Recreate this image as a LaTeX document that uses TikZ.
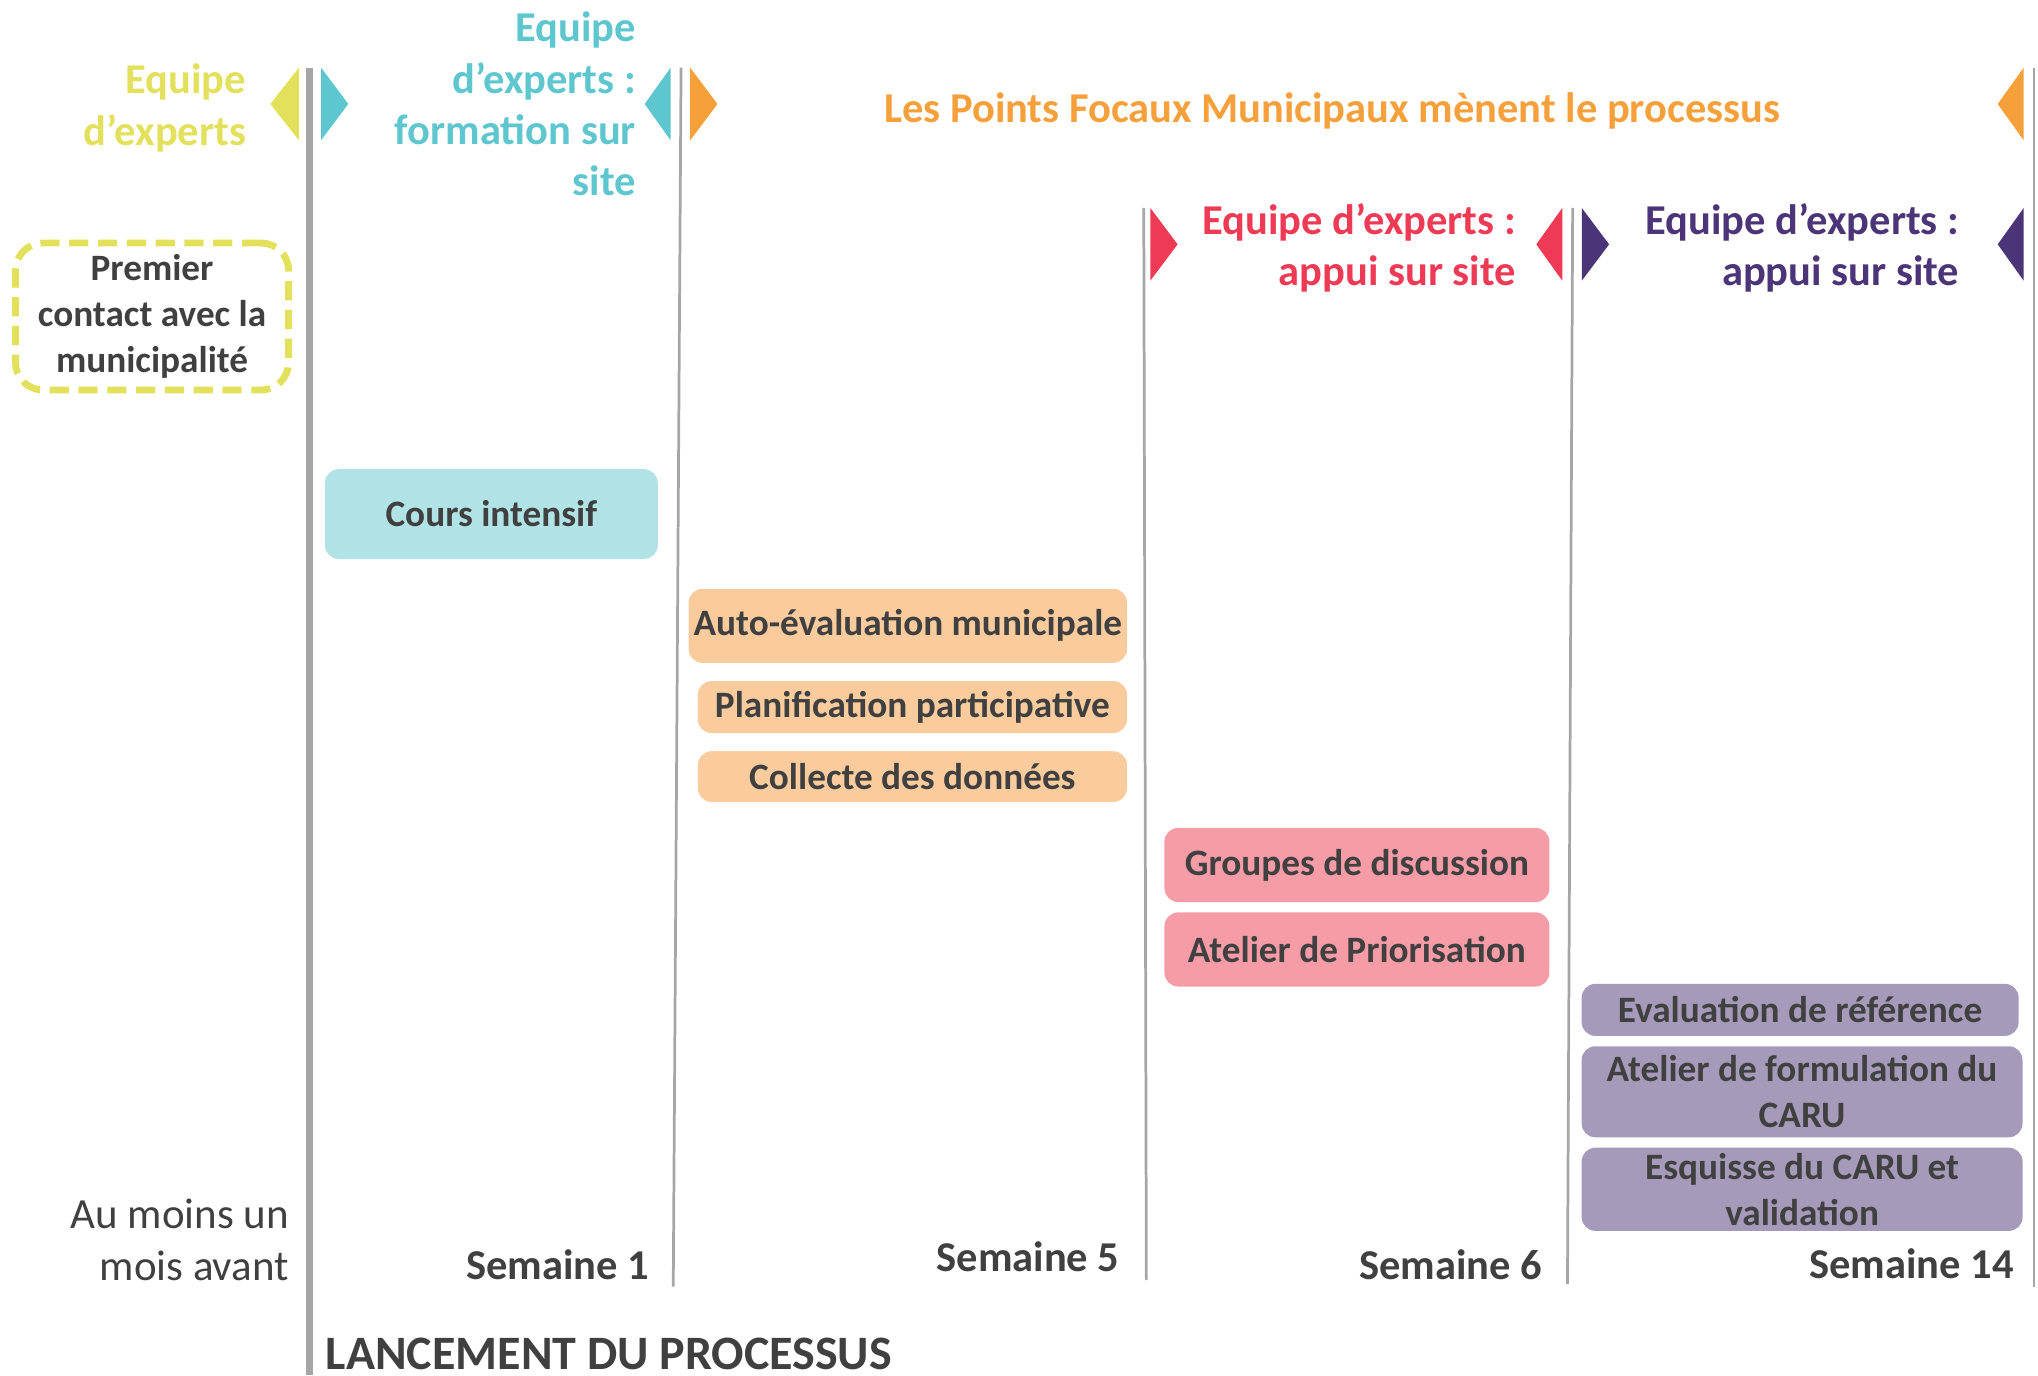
\documentclass[tikz,border=0pt]{standalone}
\usepackage{fontspec}
\setmainfont{Carlito}
\definecolor{txtgrey}{HTML}{404040}
\definecolor{linegrey}{HTML}{A6A6A6}
\definecolor{expyellow}{HTML}{E3E05B}
\definecolor{expcyan}{HTML}{5EC6CF}
\definecolor{pfmorange}{HTML}{F6A03C}
\definecolor{expred}{HTML}{EE3A54}
\definecolor{exppurple}{HTML}{4B3477}
\definecolor{fillcyan}{HTML}{B0E2E6}
\definecolor{fillorange}{HTML}{FACC9D}
\definecolor{fillred}{HTML}{F69CA6}
\definecolor{fillpurple}{HTML}{A69ABA}

\begin{document}
\begin{tikzpicture}[x=0.01cm, y=-0.01cm,
  lbl/.style={font=\fontsize{9.3}{11.2}\selectfont\bfseries, inner sep=0pt, align=right, anchor=east},
  task/.style={rounded corners=3pt, font=\fontsize{8.15}{10}\selectfont\bfseries, text=txtgrey, align=center, inner sep=0pt},
  week/.style={font=\fontsize{9.3}{10}\selectfont\bfseries, text=txtgrey, inner sep=0pt, anchor=east}]
\useasboundingbox (0,0) rectangle (1568,1058);
% time lines
\draw[linegrey, line width=1.6pt] (238,52) -- (238,1058);
\draw[linegrey, line width=0.6pt] (524,52) -- (518,990);
\draw[linegrey, line width=0.6pt] (880,160) -- (882,985);
\draw[linegrey, line width=0.6pt] (1210,160) -- (1206,988);
\draw[linegrey, line width=0.6pt] (1565,52) -- (1565,990);
% flags
\fill[expyellow] (230,52) -- (208,80) -- (230,108) -- cycle;
\fill[expcyan] (247,52) -- (268,80) -- (247,108) -- cycle;
\fill[expcyan] (516,52) -- (496,80) -- (516,108) -- cycle;
\fill[pfmorange] (531,52) -- (552,80) -- (531,108) -- cycle;
\fill[pfmorange] (1557,52) -- (1537,80) -- (1557,108) -- cycle;
\fill[expred] (885,160) -- (906,188) -- (885,216) -- cycle;
\fill[expred] (1202,160) -- (1182,188) -- (1202,216) -- cycle;
\fill[exppurple] (1217,160) -- (1238,188) -- (1217,216) -- cycle;
\fill[exppurple] (1557,160) -- (1537,188) -- (1557,216) -- cycle;
% headers
\node[lbl, expyellow] (yexp) at (190,83) {Equipe\\d’experts};
\node[lbl, expcyan] (cexp) at (490,80) {Equipe\\d’experts :\\formation sur\\site};
\node[lbl, pfmorange, anchor=center] (pfm) at (1025,85) {Les Points Focaux Municipaux mènent le processus};
\node[lbl, expred] (rexp) at (1167,191) {Equipe d’experts :\\appui sur site};
\node[lbl, exppurple] (pexp) at (1508,191) {Equipe d’experts :\\appui sur site};
% activities
\node[task, draw=expyellow, line width=1.5pt, dash pattern=on 4.2pt off 2.1pt, rounded corners=6pt,
  minimum width=2.1cm, minimum height=1.13cm] (premier) at (117,243.5) {Premier\\contact avec la\\municipalité};
\node[task, fill=fillcyan, minimum width=2.56cm, minimum height=0.69cm] (cours) at (378,395.5) {Cours intensif};
\node[task, fill=fillorange, minimum width=3.37cm, minimum height=0.57cm] (auto) at (698.5,481.5) {Auto-évaluation municipale};
\node[task, fill=fillorange, minimum width=3.30cm, minimum height=0.40cm] (plan) at (702,544) {Planification participative};
\node[task, fill=fillorange, minimum width=3.30cm, minimum height=0.39cm] (collecte) at (702,597.5) {Collecte des données};
\node[task, fill=fillred, minimum width=2.96cm, minimum height=0.57cm] (groupes) at (1044,665.5) {Groupes de discussion};
\node[task, fill=fillred, minimum width=2.96cm, minimum height=0.57cm] (atelier) at (1044,730.5) {Atelier de Priorisation};
\node[task, fill=fillpurple, minimum width=3.36cm, minimum height=0.40cm] (evalref) at (1385,777) {Evaluation de référence};
\node[task, fill=fillpurple, minimum width=3.39cm, minimum height=0.70cm] (formul) at (1386.5,840) {Atelier de formulation du\\CARU};
\node[task, fill=fillpurple, minimum width=3.39cm, minimum height=0.64cm] (esquisse) at (1386.5,915) {Esquisse du CARU et\\validation};
% time marks
\node[week, font=\fontsize{9.4}{11.4}\selectfont, align=right] (avant) at (223,954) {Au moins un\\mois avant};
\node[week] (w1) at (500,973) {Semaine 1};
\node[week] (w5) at (862,967) {Semaine 5};
\node[week] (w6) at (1187,973) {Semaine 6};
\node[week] (w14) at (1550,972) {Semaine 14};
\node[week, anchor=west, font=\fontsize{10.5}{11}\selectfont\bfseries] (lancement) at (250,1042) {LANCEMENT DU PROCESSUS};
\end{tikzpicture}
\end{document}
